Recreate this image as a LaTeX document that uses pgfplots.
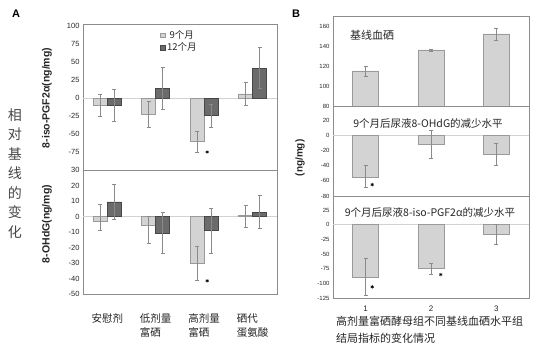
\documentclass[border=0pt]{standalone}
\usepackage{pgfplots}
\usepackage{pgfplotstable}
\pgfplotsset{compat=1.18}
\usepackage{fontspec}
\setmainfont{Liberation Sans}
\newfontfamily\cjk{Noto Sans CJK SC}
\definecolor{lightbar}{HTML}{D3D3D3}
\definecolor{lightedge}{HTML}{9A9A9A}
\definecolor{darkbar}{HTML}{6B6B6B}
\definecolor{darkedge}{HTML}{474747}
\definecolor{framec}{HTML}{8C8C8C}
\definecolor{errc}{HTML}{8A8A8A}
\definecolor{txt}{HTML}{262626}

% Panel A, 8-iso-PGF2alpha
\pgfplotstableread{
x y up dn
0 -10 15 15
1 -22 17 18
2 -60 14 15
3 6 16 16
}\AisoNine
\pgfplotstableread{
x y up dn
0 -10 22 22
1 13 30 29
2 -24 15 16
3 41 29 28
}\AisoTwelve
% Panel A, 8-OHdG
\pgfplotstableread{
x y up dn
0 -3 11 6
1 -5.5 5.5 11.5
2 -30 11 11
3 0.5 6.5 7.5
}\AohNine
\pgfplotstableread{
x y up dn
0 9.5 11.5 11.5
1 -10.5 13.5 13.5
2 -9 14 15
3 2.5 11 10
}\AohTwelve
% Panel B
\pgfplotstableread{
x y up dn
1 115 5 5
2 136 1 1
3 152 6 6
}\Bse
\pgfplotstableread{
x y up dn
1 -55 15 13
2 -12 19 18
3 -25 15 15
}\Boh
\pgfplotstableread{
x y up dn
1 -90 32 30
2 -75 9 9
3 -17 17 16
}\Biso

\pgfplotsset{
  base/.style={
    scale only axis,
    axis line style={framec, line width=0.8pt},
    tick style={draw=none},
    /pgf/number format/assume math mode=true,
    ybar,
    clip=false,
    extra y ticks={0},
    extra y tick labels={},
    extra y tick style={grid=major, major grid style={gray!35, line width=1.1pt}},
    error bars/y dir=both,
    error bars/y explicit,
    error bars/error bar style={errc, line width=0.5pt},
    error bars/error mark options={rotate=90, errc, mark size=2pt, line width=0.5pt},
  },
  nine/.style={fill=lightbar, draw=lightedge, line width=0.5pt, bar width=14pt, bar shift=-7pt},
  twelve/.style={fill=darkbar, draw=darkedge, line width=0.5pt, bar width=14pt, bar shift=7pt},
  bbar/.style={fill=lightbar, draw=lightedge, line width=0.6pt, bar width=26pt, bar shift=0pt},
  star/.style={only marks, mark=asterisk, mark size=1.7pt, black, line width=0.6pt, forget plot},
}

\begin{document}
\begin{tikzpicture}[x=1pt,y=1pt]
\path[use as bounding box] (0,0) rectangle (544,348);

% ---------------- Panel A top ----------------
\begin{axis}[base,
  at={(83pt,178pt)}, anchor=south west,
  width=194pt, height=146pt,
  xmin=-0.5, xmax=3.5, ymin=-100, ymax=103,
  xtick=\empty,
  ytick={-75,-50,-25,0,25,50,75,100},
  yticklabel style={font=\fontsize{7.5}{8}\selectfont, text=txt},
  legend style={at={(0.38,0.985)}, anchor=north west, draw=none, fill=none,
    font=\cjk\fontsize{9.5}{10}\selectfont, row sep=-1pt, text=txt},
  legend image code/.code={\draw[#1, bar width=0pt, bar shift=0pt] (0pt,-2.3pt) rectangle (4.6pt,2.3pt);},
]
\addplot[nine] table[x=x, y=y, y error plus=up, y error minus=dn] {\AisoNine};
\addlegendentry{9个月}
\addplot[twelve] table[x=x, y=y, y error plus=up, y error minus=dn] {\AisoTwelve};
\addlegendentry{12个月}
\addplot[star] coordinates {(2.06,-75)};
\end{axis}

% ---------------- Panel A bottom ----------------
\begin{axis}[base,
  at={(83pt,54pt)}, anchor=south west,
  width=194pt, height=124pt,
  xmin=-0.5, xmax=3.5, ymin=-50, ymax=30,
  xtick={0,1,2,3},
  xticklabels={安慰剂, {低剂量\\富硒}, {高剂量\\富硒}, {硒代\\蛋氨酸}},
  xticklabel style={align=left, font=\cjk\fontsize{10.5}{14}\selectfont, text=txt, yshift=-12pt},
  ytick={-50,-40,-30,-20,-10,0,10,20,30},
  yticklabel style={font=\fontsize{7.5}{8}\selectfont, text=txt},
]
\addplot[nine] table[x=x, y=y, y error plus=up, y error minus=dn] {\AohNine};
\addplot[twelve] table[x=x, y=y, y error plus=up, y error minus=dn] {\AohTwelve};
\addplot[star] coordinates {(2.06,-41.5)};
\end{axis}

% ---------------- Panel B top ----------------
\begin{axis}[base,
  at={(333pt,242pt)}, anchor=south west,
  width=196pt, height=90pt,
  xmin=0.5, xmax=3.5, ymin=80, ymax=170,
  xtick=\empty,
  extra y ticks={},
  ytick={80,100,120,140,160},
  yticklabel style={font=\fontsize{6}{7}\selectfont, text=txt},
]
\addplot[bbar] table[x=x, y=y, y error plus=up, y error minus=dn] {\Bse};
\end{axis}

% ---------------- Panel B middle ----------------
\begin{axis}[base,
  at={(333pt,152pt)}, anchor=south west,
  width=196pt, height=90pt,
  xmin=0.5, xmax=3.5, ymin=-80, ymax=38.7,
  xtick=\empty,
  ytick={-80,-60,-40,-20,0,20},
  yticklabel style={font=\fontsize{6}{7}\selectfont, text=txt},
]
\addplot[bbar] table[x=x, y=y, y error plus=up, y error minus=dn] {\Boh};
\addplot[star] coordinates {(1.1,-65)};
\end{axis}

% ---------------- Panel B bottom ----------------
\begin{axis}[base,
  at={(333pt,50pt)}, anchor=south west,
  width=196pt, height=102pt,
  xmin=0.5, xmax=3.5, ymin=-125, ymax=49,
  xtick={1,2,3},
  xticklabel style={font=\fontsize{8}{9}\selectfont, text=txt},
  ytick={-125,-100,-75,-50,-25,0,25},
  yticklabel style={font=\fontsize{6}{7}\selectfont, text=txt},
]
\addplot[bbar] table[x=x, y=y, y error plus=up, y error minus=dn] {\Biso};
\addplot[star] coordinates {(1.1,-106) (2.15,-85)};
\end{axis}

% ---------------- Texts ----------------
\node[font=\bfseries\fontsize{11}{12}\selectfont] at (16,334) {A};
\node[font=\bfseries\fontsize{11}{12}\selectfont] at (296,334) {B};
\node[rotate=90, font=\bfseries\fontsize{10.5}{12}\selectfont, text=txt] at (47,250) {8-iso-PGF2α(ng/mg)};
\node[rotate=90, font=\bfseries\fontsize{10.5}{12}\selectfont, text=txt] at (47,124) {8-OHdG(ng/mg)};
\node[align=center, font=\cjk\fontsize{14}{19.5}\selectfont, text=txt!85] at (15,174.5) {相\\对\\基\\线\\的\\变\\化};
\node[rotate=90, font=\bfseries\fontsize{10}{12}\selectfont, text=txt] at (300,190) {(ng/mg)};
\node[font=\cjk\fontsize{11}{12}\selectfont, text=txt] at (372,313) {基线血硒};
\node[font=\cjk\fontsize{10.5}{12}\selectfont, text=txt] at (428,224) {9个月后尿液8-OHdG的减少水平};
\node[font=\cjk\fontsize{10.5}{12}\selectfont, text=txt] at (430,135) {9个月后尿液8-iso-PGF2α的减少水平};
\node[anchor=north west, align=left, inner sep=0pt, font=\cjk\fontsize{11}{17}\selectfont, text=txt] at (336,32) {高剂量富硒酵母组不同基线血硒水平组\\结局指标的变化情况};
\end{tikzpicture}
\end{document}
